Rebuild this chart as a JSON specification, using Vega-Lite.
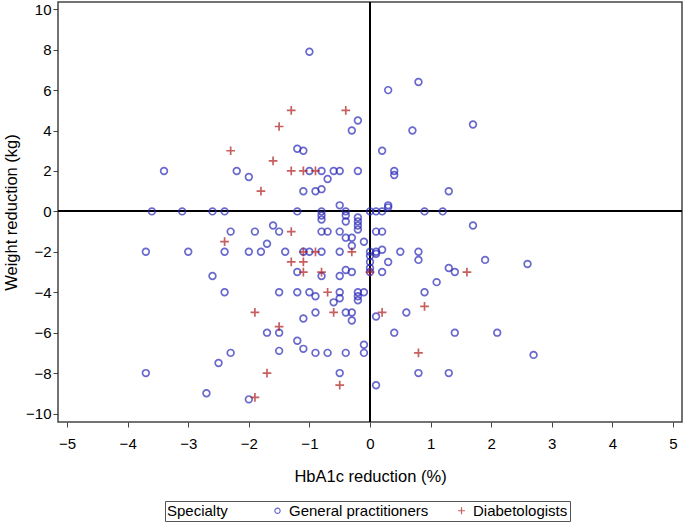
{
  "$schema": "https://vega.github.io/schema/vega-lite/v6.json",
  "width": 624,
  "height": 420,
  "autosize": "none",
  "padding": {"left": 58, "top": 2, "right": 1, "bottom": 100},
  "background": "white",
  "config": {
    "font": "Liberation Sans",
    "view": {"stroke": "#444444", "strokeWidth": 1.5},
    "axis": {
      "domain": false,
      "grid": false,
      "ticks": true,
      "tickColor": "#444444",
      "tickSize": 5,
      "labelFontSize": 15,
      "labelColor": "black",
      "labelOverlap": false,
      "titleFontSize": 16.5,
      "titleFontWeight": "normal",
      "titleColor": "black"
    }
  },
  "data": {
    "values": [
      {"hba1c": -3.4, "weight": 2, "Specialty": "General practitioners"},
      {"hba1c": -1.0, "weight": 7.9, "Specialty": "General practitioners"},
      {"hba1c": -0.2, "weight": 4.5, "Specialty": "General practitioners"},
      {"hba1c": -0.3, "weight": 4, "Specialty": "General practitioners"},
      {"hba1c": -1.2, "weight": 3.1, "Specialty": "General practitioners"},
      {"hba1c": -1.1, "weight": 3, "Specialty": "General practitioners"},
      {"hba1c": -2.2, "weight": 2, "Specialty": "General practitioners"},
      {"hba1c": -2.0, "weight": 1.7, "Specialty": "General practitioners"},
      {"hba1c": -1.0, "weight": 2, "Specialty": "General practitioners"},
      {"hba1c": -0.8, "weight": 2, "Specialty": "General practitioners"},
      {"hba1c": -0.7, "weight": 1.6, "Specialty": "General practitioners"},
      {"hba1c": -0.6, "weight": 2, "Specialty": "General practitioners"},
      {"hba1c": -0.5, "weight": 2, "Specialty": "General practitioners"},
      {"hba1c": -0.2, "weight": 2, "Specialty": "General practitioners"},
      {"hba1c": -1.1, "weight": 1, "Specialty": "General practitioners"},
      {"hba1c": -0.9, "weight": 1, "Specialty": "General practitioners"},
      {"hba1c": -0.8, "weight": 1.1, "Specialty": "General practitioners"},
      {"hba1c": -0.5, "weight": 0.3, "Specialty": "General practitioners"},
      {"hba1c": 0.8, "weight": 6.4, "Specialty": "General practitioners"},
      {"hba1c": 0.3, "weight": 6, "Specialty": "General practitioners"},
      {"hba1c": 1.7, "weight": 4.3, "Specialty": "General practitioners"},
      {"hba1c": 0.7, "weight": 4, "Specialty": "General practitioners"},
      {"hba1c": 0.2, "weight": 3, "Specialty": "General practitioners"},
      {"hba1c": 0.4, "weight": 2, "Specialty": "General practitioners"},
      {"hba1c": 0.4, "weight": 1.8, "Specialty": "General practitioners"},
      {"hba1c": 1.3, "weight": 1, "Specialty": "General practitioners"},
      {"hba1c": 0.3, "weight": 0.3, "Specialty": "General practitioners"},
      {"hba1c": 0.3, "weight": 0.2, "Specialty": "General practitioners"},
      {"hba1c": -3.6, "weight": 0, "Specialty": "General practitioners"},
      {"hba1c": -3.1, "weight": 0, "Specialty": "General practitioners"},
      {"hba1c": -2.6, "weight": 0, "Specialty": "General practitioners"},
      {"hba1c": -2.4, "weight": 0, "Specialty": "General practitioners"},
      {"hba1c": -1.2, "weight": 0, "Specialty": "General practitioners"},
      {"hba1c": -0.8, "weight": 0, "Specialty": "General practitioners"},
      {"hba1c": -0.4, "weight": 0, "Specialty": "General practitioners"},
      {"hba1c": 0.0, "weight": 0, "Specialty": "General practitioners"},
      {"hba1c": 0.1, "weight": 0, "Specialty": "General practitioners"},
      {"hba1c": 0.2, "weight": 0, "Specialty": "General practitioners"},
      {"hba1c": 0.9, "weight": 0, "Specialty": "General practitioners"},
      {"hba1c": 1.2, "weight": 0, "Specialty": "General practitioners"},
      {"hba1c": -0.8, "weight": -0.2, "Specialty": "General practitioners"},
      {"hba1c": -0.8, "weight": -0.4, "Specialty": "General practitioners"},
      {"hba1c": -0.4, "weight": -0.2, "Specialty": "General practitioners"},
      {"hba1c": -0.4, "weight": -0.5, "Specialty": "General practitioners"},
      {"hba1c": -0.2, "weight": -0.3, "Specialty": "General practitioners"},
      {"hba1c": -0.2, "weight": -0.5, "Specialty": "General practitioners"},
      {"hba1c": -0.2, "weight": -0.7, "Specialty": "General practitioners"},
      {"hba1c": -0.2, "weight": -0.9, "Specialty": "General practitioners"},
      {"hba1c": -1.6, "weight": -0.7, "Specialty": "General practitioners"},
      {"hba1c": 1.7, "weight": -0.7, "Specialty": "General practitioners"},
      {"hba1c": -2.3, "weight": -1, "Specialty": "General practitioners"},
      {"hba1c": -1.9, "weight": -1, "Specialty": "General practitioners"},
      {"hba1c": -1.5, "weight": -1, "Specialty": "General practitioners"},
      {"hba1c": -0.8, "weight": -1, "Specialty": "General practitioners"},
      {"hba1c": -0.7, "weight": -1, "Specialty": "General practitioners"},
      {"hba1c": -0.5, "weight": -1, "Specialty": "General practitioners"},
      {"hba1c": 0.1, "weight": -1, "Specialty": "General practitioners"},
      {"hba1c": 0.2, "weight": -1, "Specialty": "General practitioners"},
      {"hba1c": -0.4, "weight": -1.3, "Specialty": "General practitioners"},
      {"hba1c": -0.3, "weight": -1.3, "Specialty": "General practitioners"},
      {"hba1c": -0.1, "weight": -1.5, "Specialty": "General practitioners"},
      {"hba1c": -0.3, "weight": -1.7, "Specialty": "General practitioners"},
      {"hba1c": -1.7, "weight": -1.6, "Specialty": "General practitioners"},
      {"hba1c": -3.7, "weight": -2, "Specialty": "General practitioners"},
      {"hba1c": -3.0, "weight": -2, "Specialty": "General practitioners"},
      {"hba1c": -2.4, "weight": -2, "Specialty": "General practitioners"},
      {"hba1c": -2.0, "weight": -2, "Specialty": "General practitioners"},
      {"hba1c": -1.8, "weight": -2, "Specialty": "General practitioners"},
      {"hba1c": -1.4, "weight": -2, "Specialty": "General practitioners"},
      {"hba1c": -1.1, "weight": -2, "Specialty": "General practitioners"},
      {"hba1c": -1.0, "weight": -2, "Specialty": "General practitioners"},
      {"hba1c": -0.8, "weight": -2, "Specialty": "General practitioners"},
      {"hba1c": -0.5, "weight": -2, "Specialty": "General practitioners"},
      {"hba1c": 0.0, "weight": -2, "Specialty": "General practitioners"},
      {"hba1c": 0.1, "weight": -2, "Specialty": "General practitioners"},
      {"hba1c": 0.1, "weight": -2.1, "Specialty": "General practitioners"},
      {"hba1c": 0.2, "weight": -1.9, "Specialty": "General practitioners"},
      {"hba1c": 0.5, "weight": -2, "Specialty": "General practitioners"},
      {"hba1c": 0.8, "weight": -2, "Specialty": "General practitioners"},
      {"hba1c": 0.0, "weight": -2.2, "Specialty": "General practitioners"},
      {"hba1c": 0.0, "weight": -2.5, "Specialty": "General practitioners"},
      {"hba1c": 0.0, "weight": -2.8, "Specialty": "General practitioners"},
      {"hba1c": 0.0, "weight": -3, "Specialty": "General practitioners"},
      {"hba1c": 0.3, "weight": -2.5, "Specialty": "General practitioners"},
      {"hba1c": 0.8, "weight": -2.4, "Specialty": "General practitioners"},
      {"hba1c": 1.9, "weight": -2.4, "Specialty": "General practitioners"},
      {"hba1c": 2.6, "weight": -2.6, "Specialty": "General practitioners"},
      {"hba1c": 1.3, "weight": -2.8, "Specialty": "General practitioners"},
      {"hba1c": 1.4, "weight": -3, "Specialty": "General practitioners"},
      {"hba1c": 0.2, "weight": -3, "Specialty": "General practitioners"},
      {"hba1c": -2.6, "weight": -3.2, "Specialty": "General practitioners"},
      {"hba1c": -1.2, "weight": -3, "Specialty": "General practitioners"},
      {"hba1c": -0.8, "weight": -3.2, "Specialty": "General practitioners"},
      {"hba1c": -0.5, "weight": -3.2, "Specialty": "General practitioners"},
      {"hba1c": -0.4, "weight": -2.9, "Specialty": "General practitioners"},
      {"hba1c": -0.3, "weight": -3, "Specialty": "General practitioners"},
      {"hba1c": 1.1, "weight": -3.5, "Specialty": "General practitioners"},
      {"hba1c": 0.9, "weight": -4, "Specialty": "General practitioners"},
      {"hba1c": -2.4, "weight": -4, "Specialty": "General practitioners"},
      {"hba1c": -1.5, "weight": -4, "Specialty": "General practitioners"},
      {"hba1c": -1.2, "weight": -4, "Specialty": "General practitioners"},
      {"hba1c": -1.0, "weight": -4, "Specialty": "General practitioners"},
      {"hba1c": -0.9, "weight": -4.2, "Specialty": "General practitioners"},
      {"hba1c": -0.5, "weight": -4, "Specialty": "General practitioners"},
      {"hba1c": -0.5, "weight": -4.3, "Specialty": "General practitioners"},
      {"hba1c": -0.6, "weight": -4.5, "Specialty": "General practitioners"},
      {"hba1c": -0.2, "weight": -4, "Specialty": "General practitioners"},
      {"hba1c": -0.2, "weight": -4.2, "Specialty": "General practitioners"},
      {"hba1c": -0.2, "weight": -4.4, "Specialty": "General practitioners"},
      {"hba1c": -0.1, "weight": -4, "Specialty": "General practitioners"},
      {"hba1c": -1.1, "weight": -5.3, "Specialty": "General practitioners"},
      {"hba1c": -0.9, "weight": -5, "Specialty": "General practitioners"},
      {"hba1c": -0.4, "weight": -5, "Specialty": "General practitioners"},
      {"hba1c": -0.3, "weight": -5, "Specialty": "General practitioners"},
      {"hba1c": -0.3, "weight": -5.4, "Specialty": "General practitioners"},
      {"hba1c": 0.1, "weight": -5.2, "Specialty": "General practitioners"},
      {"hba1c": 0.6, "weight": -5, "Specialty": "General practitioners"},
      {"hba1c": -1.7, "weight": -6, "Specialty": "General practitioners"},
      {"hba1c": -1.5, "weight": -6, "Specialty": "General practitioners"},
      {"hba1c": -1.2, "weight": -6.4, "Specialty": "General practitioners"},
      {"hba1c": -1.1, "weight": -6.8, "Specialty": "General practitioners"},
      {"hba1c": 0.4, "weight": -6, "Specialty": "General practitioners"},
      {"hba1c": 1.4, "weight": -6, "Specialty": "General practitioners"},
      {"hba1c": 2.1, "weight": -6, "Specialty": "General practitioners"},
      {"hba1c": -0.1, "weight": -6.6, "Specialty": "General practitioners"},
      {"hba1c": -2.3, "weight": -7, "Specialty": "General practitioners"},
      {"hba1c": -1.5, "weight": -6.9, "Specialty": "General practitioners"},
      {"hba1c": -0.9, "weight": -7, "Specialty": "General practitioners"},
      {"hba1c": -0.7, "weight": -7, "Specialty": "General practitioners"},
      {"hba1c": -0.4, "weight": -7, "Specialty": "General practitioners"},
      {"hba1c": -0.1, "weight": -7, "Specialty": "General practitioners"},
      {"hba1c": 2.7, "weight": -7.1, "Specialty": "General practitioners"},
      {"hba1c": -2.5, "weight": -7.5, "Specialty": "General practitioners"},
      {"hba1c": -3.7, "weight": -8, "Specialty": "General practitioners"},
      {"hba1c": -0.5, "weight": -8, "Specialty": "General practitioners"},
      {"hba1c": 0.8, "weight": -8, "Specialty": "General practitioners"},
      {"hba1c": 1.3, "weight": -8, "Specialty": "General practitioners"},
      {"hba1c": 0.1, "weight": -8.6, "Specialty": "General practitioners"},
      {"hba1c": -2.7, "weight": -9, "Specialty": "General practitioners"},
      {"hba1c": -2.0, "weight": -9.3, "Specialty": "General practitioners"},
      {"hba1c": -1.3, "weight": 5, "Specialty": "Diabetologists"},
      {"hba1c": -0.4, "weight": 5, "Specialty": "Diabetologists"},
      {"hba1c": -1.5, "weight": 4.2, "Specialty": "Diabetologists"},
      {"hba1c": -2.3, "weight": 3, "Specialty": "Diabetologists"},
      {"hba1c": -1.6, "weight": 2.5, "Specialty": "Diabetologists"},
      {"hba1c": -1.3, "weight": 2, "Specialty": "Diabetologists"},
      {"hba1c": -1.1, "weight": 2, "Specialty": "Diabetologists"},
      {"hba1c": -0.9, "weight": 2, "Specialty": "Diabetologists"},
      {"hba1c": -1.8, "weight": 1, "Specialty": "Diabetologists"},
      {"hba1c": -1.3, "weight": -1, "Specialty": "Diabetologists"},
      {"hba1c": -2.4, "weight": -1.5, "Specialty": "Diabetologists"},
      {"hba1c": -1.1, "weight": -2, "Specialty": "Diabetologists"},
      {"hba1c": -0.9, "weight": -2, "Specialty": "Diabetologists"},
      {"hba1c": -0.3, "weight": -2, "Specialty": "Diabetologists"},
      {"hba1c": -1.3, "weight": -2.5, "Specialty": "Diabetologists"},
      {"hba1c": -1.1, "weight": -2.5, "Specialty": "Diabetologists"},
      {"hba1c": -1.1, "weight": -3, "Specialty": "Diabetologists"},
      {"hba1c": -0.8, "weight": -3, "Specialty": "Diabetologists"},
      {"hba1c": 0.0, "weight": -3, "Specialty": "Diabetologists"},
      {"hba1c": 1.6, "weight": -3, "Specialty": "Diabetologists"},
      {"hba1c": -0.7, "weight": -4, "Specialty": "Diabetologists"},
      {"hba1c": 0.9, "weight": -4.7, "Specialty": "Diabetologists"},
      {"hba1c": -1.9, "weight": -5, "Specialty": "Diabetologists"},
      {"hba1c": -0.6, "weight": -5, "Specialty": "Diabetologists"},
      {"hba1c": 0.2, "weight": -5, "Specialty": "Diabetologists"},
      {"hba1c": -1.5, "weight": -5.7, "Specialty": "Diabetologists"},
      {"hba1c": 0.8, "weight": -7, "Specialty": "Diabetologists"},
      {"hba1c": -1.7, "weight": -8, "Specialty": "Diabetologists"},
      {"hba1c": -0.5, "weight": -8.6, "Specialty": "Diabetologists"},
      {"hba1c": -1.9, "weight": -9.2, "Specialty": "Diabetologists"}
    ]
  },
  "layer": [
    {
      "mark": {"type": "rule", "color": "black", "strokeWidth": 1.2},
      "encoding": {"x": {"datum": 0, "type": "quantitative"}}
    },
    {
      "mark": {"type": "rule", "color": "black", "strokeWidth": 1.2},
      "encoding": {"y": {"datum": 0, "type": "quantitative"}}
    },
    {
      "mark": {"type": "point", "filled": false, "strokeWidth": 1.7, "size": 45},
      "encoding": {
        "x": {
          "field": "hba1c",
          "type": "quantitative",
          "scale": {"domain": [-5.15, 5.15], "nice": false, "zero": false},
          "axis": {
            "values": [-5, -4, -3, -2, -1, 0, 1, 2, 3, 4, 5],
            "format": "d",
            "title": "HbA1c reduction (%)",
            "labelPadding": 9,
            "titlePadding": 17
          }
        },
        "y": {
          "field": "weight",
          "type": "quantitative",
          "scale": {"domain": [-10.42, 10.36], "nice": false, "zero": false},
          "axis": {
            "values": [-10, -9, -8, -7, -6, -5, -4, -3, -2, -1, 0, 1, 2, 3, 4, 5, 6, 7, 8, 9, 10],
            "format": "d",
            "title": "Weight reduction (kg)",
            "labelPadding": 2,
            "titlePadding": 6
          }
        },
        "color": {
          "field": "Specialty",
          "type": "nominal",
          "scale": {"domain": ["General practitioners", "Diabetologists"], "range": ["#2a2ab8", "#b01c1c"]},
          "legend": {
            "orient": "none",
            "legendX": 107,
            "legendY": 499,
            "direction": "horizontal",
            "title": "Specialty",
            "titleOrient": "left",
            "titleFontSize": 15,
            "titleFontWeight": "normal",
            "titleColor": "black",
            "titlePadding": 42,
            "labelFontSize": 15,
            "labelColor": "black",
            "labelOffset": 4,
            "columnPadding": 25,
            "symbolSize": 28,
            "symbolStrokeWidth": 1.2,
            "strokeColor": "#555555",
            "fillColor": "white",
            "padding": 2
          }
        },
        "shape": {
          "field": "Specialty",
          "type": "nominal",
          "scale": {"domain": ["General practitioners", "Diabetologists"], "range": ["circle", "M-1.3,0L1.3,0M0,-1.3L0,1.3"]}
        }
      }
    }
  ]
}
